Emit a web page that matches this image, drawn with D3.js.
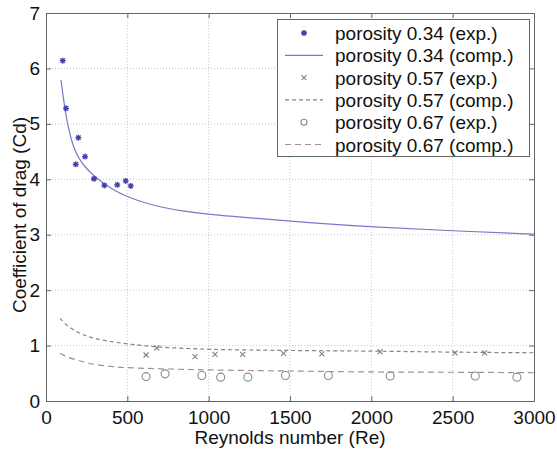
<!DOCTYPE html>
<meta charset="utf-8">
<title>Coefficient of drag</title>
<style>
body { margin: 0; background: #fff; }
svg { font-family: Arial, "Liberation Sans", sans-serif; }
.grid line { stroke: #c8c8c8; stroke-dasharray: 1,2; }
</style>
<svg width="557" height="450"></svg>
<script src="https://cdn.jsdelivr.net/npm/d3@7"></script>
<script>

// porosity 0.34 experiment
var exp34Re = [103, 123, 183, 199, 240, 295, 359, 438, 490, 521];
var exp34Cd = [6.14, 5.28, 4.27, 4.75, 4.41, 4.01, 3.89, 3.90, 3.97, 3.88];
// porosity 0.34 computed
var comp34Re = [92, 110, 127, 150, 168, 200, 240, 291, 350, 420, 496, 600, 701, 850, 994, 1150, 1316, 1600, 2000, 2500, 3000];
var comp34Cd = [5.79, 5.40, 5.07, 4.78, 4.59, 4.38, 4.22, 4.07, 3.93, 3.80, 3.69, 3.58, 3.50, 3.42, 3.37, 3.33, 3.29, 3.22, 3.14, 3.07, 3.01];
// porosity 0.57
var exp57Re = [615, 681, 916, 1039, 1209, 1460, 1696, 2054, 2515, 2696];
var exp57Cd = [0.83, 0.96, 0.80, 0.84, 0.84, 0.86, 0.85, 0.89, 0.87, 0.87];
var comp57Re = [86, 130, 189, 240, 291, 400, 496, 600, 701, 850, 1009, 1250, 1521, 2054, 2500, 3000];
var comp57Cd = [1.49, 1.35, 1.25, 1.18, 1.13, 1.07, 1.03, 1.00, 0.97, 0.95, 0.93, 0.92, 0.91, 0.90, 0.88, 0.87];
// porosity 0.67
var exp67Re = [615, 732, 958, 1074, 1241, 1472, 1736, 2116, 2639, 2895];
var exp67Cd = [0.44, 0.49, 0.46, 0.43, 0.43, 0.46, 0.46, 0.45, 0.45, 0.43];
var comp67Re = [86, 130, 189, 240, 291, 400, 496, 600, 701, 850, 1009, 1250, 1521, 2054, 2500, 3000];
var comp67Cd = [0.86, 0.79, 0.74, 0.70, 0.66, 0.62, 0.60, 0.59, 0.58, 0.57, 0.56, 0.55, 0.54, 0.52, 0.52, 0.51];

var xTicks = [0, 500, 1000, 1500, 2000, 2500, 3000];
var yTicks = [0, 1, 2, 3, 4, 5, 6, 7];
var legendText = ["porosity 0.34 (exp.)", "porosity 0.34 (comp.)", "porosity 0.57 (exp.)",
                  "porosity 0.57 (comp.)", "porosity 0.67 (exp.)", "porosity 0.67 (comp.)"];

var svg = d3.select("svg"),
    margin = {top: 13, right: 23, bottom: 49, left: 46},
    width = +svg.attr("width") - margin.left - margin.right,
    height = +svg.attr("height") - margin.top - margin.bottom;

var x = d3.scaleLinear().domain([0, 3000]).range([0, width]),
    y = d3.scaleLinear().domain([0, 7]).range([height, 0]);

var g = svg.append("g")
    .attr("transform", "translate(" + margin.left + "," + margin.top + ")");

// dotted grid
var grid = g.append("g").attr("class", "grid");
grid.selectAll(".gx").data(xTicks.slice(1, -1)).enter().append("line")
    .attr("x1", function(d) { return x(d); }).attr("x2", function(d) { return x(d); })
    .attr("y1", 0).attr("y2", height);
grid.selectAll(".gy").data(yTicks.slice(1, -1)).enter().append("line")
    .attr("y1", function(d) { return y(d); }).attr("y2", function(d) { return y(d); })
    .attr("x1", 0).attr("x2", width);

// axes, matlab style: ticks inside on all four sides
function styleAxis(sel) {
  sel.select(".domain").attr("stroke", "#666");
  sel.selectAll(".tick line").attr("stroke", "#666");
  sel.selectAll("text").attr("fill", "#111").style("font-size", "19px");
}
g.append("g").attr("transform", "translate(0," + height + ")")
    .call(d3.axisBottom(x).tickValues(xTicks).tickSizeInner(-5).tickSizeOuter(0).tickPadding(10).tickFormat(d3.format("d")))
    .call(styleAxis);
g.append("g")
    .call(d3.axisLeft(y).tickValues(yTicks).tickSizeInner(-5).tickSizeOuter(0).tickPadding(6).tickFormat(d3.format("d")))
    .call(styleAxis);
g.append("g")
    .call(d3.axisTop(x).tickValues(xTicks).tickSizeInner(-5).tickSizeOuter(0).tickFormat(""))
    .call(styleAxis);
g.append("g").attr("transform", "translate(" + width + ",0)")
    .call(d3.axisRight(y).tickValues(yTicks).tickSizeInner(-5).tickSizeOuter(0).tickFormat(""))
    .call(styleAxis);

// labels
svg.append("text")
    .attr("x", margin.left + width / 2).attr("y", 444)
    .attr("text-anchor", "middle").style("font-size", "19px").attr("fill", "#111")
    .text("Reynolds number (Re)");
svg.append("text")
    .attr("transform", "translate(26," + (margin.top + height / 2 + 8) + ") rotate(-90)")
    .attr("text-anchor", "middle").style("font-size", "19px").attr("fill", "#111")
    .text("Coefficient of drag (Cd)");

function zip(a, b) { return a.map(function(v, i) { return [v, b[i]]; }); }
var line = d3.line().x(function(d) { return x(d[0]); }).y(function(d) { return y(d[1]); })
    .curve(d3.curveBasis);

var starPath = "M-3,0H3M0,-3V3M-2.2,-2.2L2.2,2.2M-2.2,2.2L2.2,-2.2";
var crossPath = "M-2.5,-2.5L2.5,2.5M-2.5,2.5L2.5,-2.5";

// curves
g.append("path").datum(zip(comp34Re, comp34Cd)).attr("d", line)
    .attr("fill", "none").attr("stroke", "#7878cc").attr("stroke-width", 1.2);
g.append("path").datum(zip(comp57Re, comp57Cd)).attr("d", line)
    .attr("fill", "none").attr("stroke", "#858585").attr("stroke-width", 1.2).attr("stroke-dasharray", "4,3");
g.append("path").datum(zip(comp67Re, comp67Cd)).attr("d", line)
    .attr("fill", "none").attr("stroke", "#a88e8e").attr("stroke-width", 1.2).attr("stroke-dasharray", "6,4");

// markers
g.selectAll(".s34").data(zip(exp34Re, exp34Cd)).enter().append("path")
    .attr("transform", function(d) { return "translate(" + x(d[0]) + "," + y(d[1]) + ")"; })
    .attr("d", starPath).attr("stroke", "#4040b0").attr("stroke-width", 1.3).attr("fill", "none");
g.selectAll(".s57").data(zip(exp57Re, exp57Cd)).enter().append("path")
    .attr("transform", function(d) { return "translate(" + x(d[0]) + "," + y(d[1]) + ")"; })
    .attr("d", crossPath).attr("stroke", "#808080").attr("stroke-width", 1.1).attr("fill", "none");
g.selectAll(".s67").data(zip(exp67Re, exp67Cd)).enter().append("circle")
    .attr("cx", function(d) { return x(d[0]); }).attr("cy", function(d) { return y(d[1]); })
    .attr("r", 4).attr("stroke", "#8a8a8a").attr("stroke-width", 1.1).attr("fill", "none");

// legend
var lg = svg.append("g");
lg.append("rect").attr("x", 277.5).attr("y", 19.5).attr("width", 252).attr("height", 137)
    .attr("fill", "#fff").attr("stroke", "#666").attr("stroke-width", 1);
var rows = lg.selectAll(".row").data(legendText).enter().append("g")
    .attr("transform", function(d, i) { return "translate(0," + (33 + i * 22.3) + ")"; });
rows.append("text").attr("x", 335).attr("y", 7).style("font-size", "19px").attr("fill", "#111")
    .text(function(d) { return d; });
rows.filter(function(d, i) { return i === 0; }).append("path")
    .attr("transform", "translate(304,0)").attr("d", starPath)
    .attr("stroke", "#4040b0").attr("stroke-width", 1.3).attr("fill", "none");
rows.filter(function(d, i) { return i === 1; }).append("line")
    .attr("x1", 285).attr("x2", 323).attr("stroke", "#7878cc").attr("stroke-width", 1.2);
rows.filter(function(d, i) { return i === 2; }).append("path")
    .attr("transform", "translate(304,0)").attr("d", crossPath)
    .attr("stroke", "#808080").attr("stroke-width", 1.1).attr("fill", "none");
rows.filter(function(d, i) { return i === 3; }).append("line")
    .attr("x1", 285).attr("x2", 323).attr("stroke", "#858585").attr("stroke-width", 1.2).attr("stroke-dasharray", "4,3");
rows.filter(function(d, i) { return i === 4; }).append("circle")
    .attr("cx", 304).attr("r", 3).attr("stroke", "#8a8a8a").attr("stroke-width", 1.1).attr("fill", "none");
rows.filter(function(d, i) { return i === 5; }).append("line")
    .attr("x1", 285).attr("x2", 323).attr("stroke", "#a88e8e").attr("stroke-width", 1.2).attr("stroke-dasharray", "6,4");

</script>
